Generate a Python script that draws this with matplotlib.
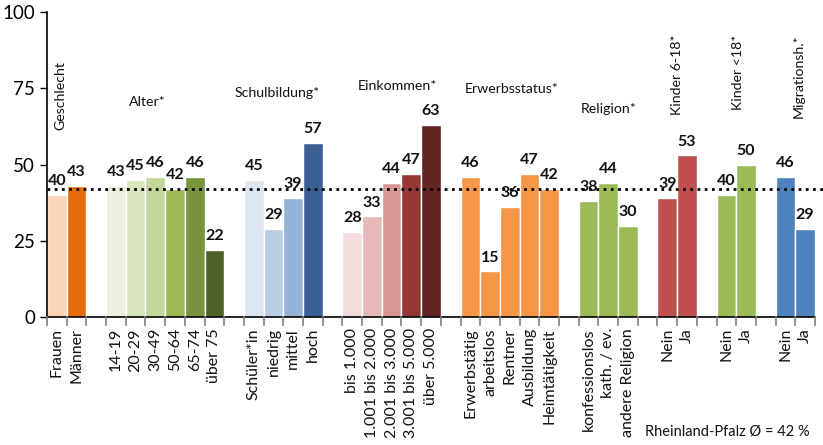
import matplotlib
matplotlib.use("Agg")
import matplotlib.pyplot as plt

plt.rcParams['font.family'] = ['Lato', 'DejaVu Sans']

# ---- data ----
groups = ["Geschlecht", "Alter*", "Schulbildung*", "Einkommen*", "Erwerbsstatus*",
          "Religion*", "Kinder 6-18*", "Kinder <18*", "Migrationsh.*"]
cat_geschlecht = ["Frauen", "Männer"]
val_geschlecht = [40, 43]
cat_alter = ["14-19", "20-29", "30-49", "50-64", "65-74", "über 75"]
val_alter = [43, 45, 46, 42, 46, 22]
cat_schule = ["Schüler*in", "niedrig", "mittel", "hoch"]
val_schule = [45, 29, 39, 57]
cat_einkommen = ["bis 1.000", "1.001 bis 2.000", "2.001 bis 3.000", "3.001 bis 5.000", "über 5.000"]
val_einkommen = [28, 33, 44, 47, 63]
cat_erwerb = ["Erwerbstätig", "arbeitslos", "Rentner", "Ausbildung", "Heimtätigkeit"]
val_erwerb = [46, 15, 36, 47, 42]
cat_religion = ["konfessionslos", "kath. / ev.", "andere Religion"]
val_religion = [38, 44, 30]
cat_kinder618 = ["Nein", "Ja"]
val_kinder618 = [39, 53]
cat_kinder18 = ["Nein", "Ja"]
val_kinder18 = [40, 50]
cat_migration = ["Nein", "Ja"]
val_migration = [46, 29]
average = 42

# ---- styles ----
col_geschlecht = ["#FBD5B5", "#E46C0A"]
col_alter = ["#EBF1DE", "#D7E4BD", "#C3D69B", "#9BBB59", "#77933C", "#4F6228"]
col_schule = ["#DCE6F2", "#B9CDE5", "#95B3D7", "#3A6093"]
col_einkommen = ["#F2DCDB", "#E6B9B8", "#D99694", "#953735", "#632523"]
col_erwerb = ["#F79646"] * 5
col_religion = ["#9BBB59"] * 3
col_kinder618 = ["#C0504D"] * 2
col_kinder18 = ["#9BBB59"] * 2
col_migration = ["#4F81BD"] * 2

cats = [cat_geschlecht, cat_alter, cat_schule, cat_einkommen, cat_erwerb,
        cat_religion, cat_kinder618, cat_kinder18, cat_migration]
vals = [val_geschlecht, val_alter, val_schule, val_einkommen, val_erwerb,
        val_religion, val_kinder618, val_kinder18, val_migration]
cols = [col_geschlecht, col_alter, col_schule, col_einkommen, col_erwerb,
        col_religion, col_kinder618, col_kinder18, col_migration]
# group title placement: (x offset from group centre, y, rotation)
title_pos = [(-0.33, 72.5, 90), (-0.9, 70.5, 0), (-0.3, 73.4, 0), (0.3, 75.7, 0),
             (0.1, 74.8, 0), (0.0, 68.2, 0), (0.0, 79.3, 90), (0.1, 80.3, 90), (0.2, 79.0, 90)]

W, H = 823, 445
fig = plt.figure(figsize=(W / 100, H / 100), dpi=100)
ax = fig.add_axes([47 / W, 1 - 317 / H, (815 - 47) / W, (317 - 12) / H])

xs_all, labels_all = [], []
pos = 0
for g, c, v, col, tp in zip(groups, cats, vals, cols, title_pos):
    xs = list(range(pos, pos + len(c)))
    ax.bar(xs, v, width=1.0, color=col, edgecolor="white", linewidth=1.0)
    for x, y in zip(xs, v):
        ax.text(x, y + 2.2, str(y), ha="center", va="bottom", fontsize=11.5,
                fontweight="bold", color="#111111")
    gc = (xs[0] + xs[-1]) / 2
    ax.text(gc + tp[0], tp[1], g, ha="center", va="center", rotation=tp[2],
            fontsize=10.2, color="#111111")
    xs_all += xs
    labels_all += c
    pos += len(c) + 1

n_slots = pos - 1
ax.set_xlim(-0.5, n_slots - 0.5)
ax.set_ylim(0, 100)
ax.axhline(average, color="black", linestyle=(0, (1, 1.6)), linewidth=2.0,
           xmax=1.01, clip_on=False, zorder=5)

ax.set_xticks(xs_all)
ax.set_xticklabels(labels_all, rotation=90, fontsize=11.5, color="#111111")
ax.tick_params(axis="x", length=0, pad=8)
# boundary tick marks
for b in range(n_slots + 1):
    ax.plot([b - 0.5, b - 0.5], [0, -2.5], color="#808080", linewidth=1.2,
            clip_on=False, zorder=4)

ax.set_yticks([0, 25, 50, 75, 100])
ax.tick_params(axis="y", labelsize=13.5, length=5, width=1, colors="black")
for s in ["top", "right"]:
    ax.spines[s].set_visible(False)
ax.spines["left"].set_linewidth(1.2)
ax.spines["bottom"].set_linewidth(1.2)

fig.text(645 / W, 1 - 432 / H, "Rheinland-Pfalz Ø = 42 %", fontsize=10.5,
         ha="left", va="center", color="#111111")

fig.savefig("out.png", dpi=100)
